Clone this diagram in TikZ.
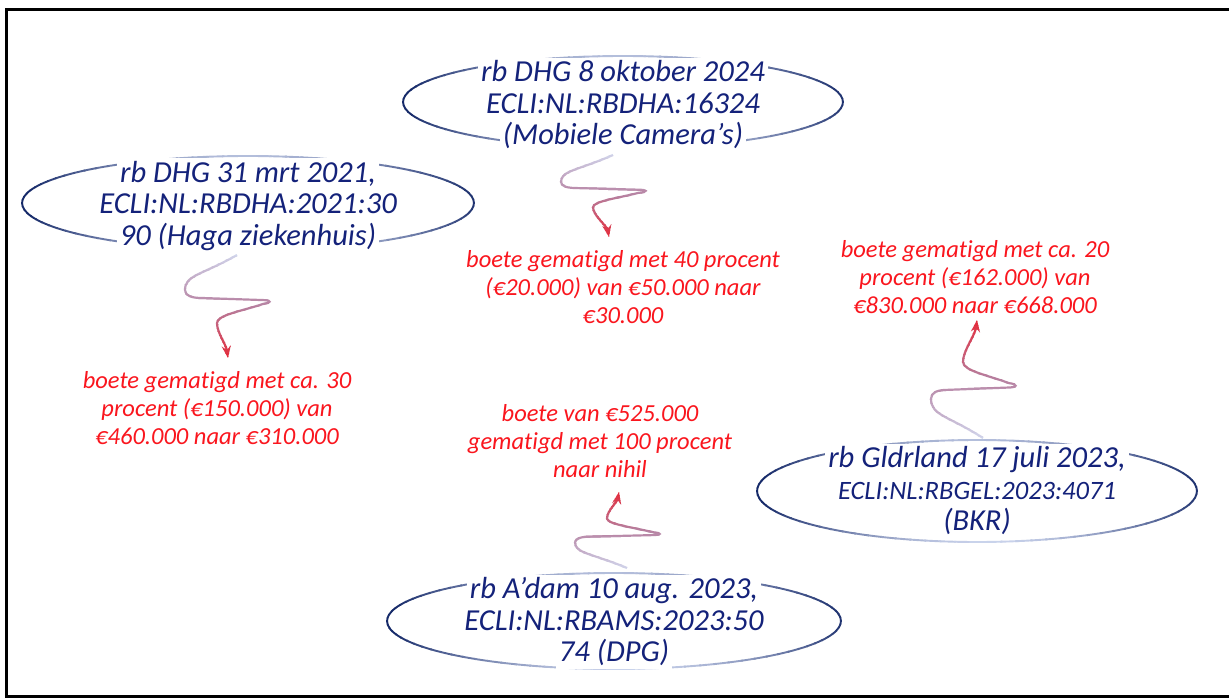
\documentclass[tikz,border=0pt]{standalone}
\usepackage{fontspec}
\setmainfont{Carlito}[Ligatures=NoCommon]
\usetikzlibrary{shapes.geometric,calc,arrows.meta}
\definecolor{navytext}{RGB}{20,34,122}
\definecolor{navyline}{RGB}{22,42,105}
\definecolor{paleline}{RGB}{205,214,238}
\definecolor{redtext}{RGB}{250,22,30}
\definecolor{sqpale}{RGB}{210,218,240}
\definecolor{sqmauve}{RGB}{182,128,160}
\definecolor{sqred}{RGB}{232,35,50}
\setlength\fboxsep{3pt}
\newcommand\hl[1]{\colorbox{white}{#1}}
\tikzset{
  ellbox/.style={ellipse, draw=none, inner sep=0},
  ellline/.style={line width=1.9pt},
  etext/.style={font=\fontsize{30.5}{31.5}\selectfont\itshape, text=navytext, align=center, inner sep=0},
  ltext/.style={font=\fontsize{24.5}{28.2}\selectfont\itshape, text=redtext, align=center, inner sep=0},
  sqline/.style={line width=2.2pt, -{Stealth[length=12pt,width=9pt,inset=4pt]}},
  outerframe/.style={line width=2.5pt, draw=black},
}
\newcommand\gradell[3]{% node name, x radius, y radius
  \foreach \t in {0,4,...,356}{
    \pgfmathtruncatemacro\dk{max(0,min(100,100*(0.08+0.92*abs(cos(\t))^1.6+0.06*sin(\t)-0.05*cos(\t))))}
    \draw[ellline, draw=navyline!\dk!paleline] ($(#1.center)+(\t:#2 and #3)$) arc[start angle=\t, end angle=\t+4.6, x radius=#2, y radius=#3];
  }}
\newcommand\squig[4]{% start, end, xscale, yscale
  \foreach \i in {0,...,31}{
    \pgfmathtruncatemacro\pa{min(100,200*\i/31)}
    \pgfmathtruncatemacro\pb{max(0,200*\i/31-100)}
    \colorlet{sqtmp}{sqmauve!\pa!sqpale}
    \colorlet{sqcol}{sqred!\pb!sqtmp}
    \begin{scope}
      \clip let \p1=(#1), \p2=(#2) in ({\x1-90pt},{\y1+(\y2-\y1)*(\i*1.12/32-0.06)}) rectangle ({\x1+90pt},{\y1+(\y2-\y1)*((\i+1)*1.12/32-0.06)});
      \begin{scope}[shift={(#1)}, xscale=#3, yscale=#4]
        \draw[sqline, draw=sqcol] (#1) .. controls (-35,-20) and (-52,-20) .. (-52,-35)
          .. controls (-52,-41) and (-45,-43) .. (-35,-43)
          -- (24,-45)
          .. controls (35,-45) and (35,-48) .. (26,-49)
          .. controls (5,-56) and (-20,-60) .. (-20,-68)
          .. controls (-20,-78) and +(-2,14) .. (#2);
      \end{scope}
    \end{scope}
  }}
\begin{document}
\begin{tikzpicture}[x=1pt,y=1pt]
\useasboundingbox (0,0) rectangle (1229,-698);
\fill[white] (0,0) rectangle (1229,-698);
\draw[outerframe] (1240,-9.5) -- (6.5,-9.5) -- (6.5,-696.5) -- (1240,-696.5);

% ellipses
\node[ellbox, minimum width=452, minimum height=94] (e1) at (248,-203) {};
\node[ellbox, minimum width=440, minimum height=92] (e2) at (623,-102) {};
\node[ellbox, minimum width=440, minimum height=102] (e3) at (977,-491) {};
\node[ellbox, minimum width=454, minimum height=96] (e4) at (614,-621) {};
\gradell{e1}{226}{47}
\gradell{e2}{220}{46}
\gradell{e3}{220}{51}
\gradell{e4}{227}{48}

% ellipse texts
\node[etext, yshift=-3] (n1) at (e1) {\hl{rb DHG 31 mrt 2021,}\\\hl{ECLI:NL:RBDHA:2021:30}\\\hl{90 (Haga ziekenhuis)}};
\node[etext, yshift=-3] (n2) at (e2) {\hl{rb DHG 8 oktober 2024}\\\hl{ECLI:NL:RBDHA:16324}\\\hl{(Mobiele Camera’s)}};
\node[etext] (n3) at (e3) {\hl{rb Gldrland 17 juli 2023,}\\\hl{\fontsize{26.5}{31.5}\selectfont ECLI:NL:RBGEL:2023:4071}\\\hl{(BKR)}};
\node[etext, yshift=-1] (n4) at (e4) {\hl{rb A’dam 10 aug. 2023,}\\\hl{ECLI:NL:RBAMS:2023:50}\\\hl{74 (DPG)}};

% red labels
\node[ltext] (l1) at (217,-408) {boete gematigd met ca. 30\\procent (€150.000) van\\€460.000 naar €310.000};
\node[ltext] (l2) at (623,-287) {boete gematigd met 40 procent\\(€20.000) van €50.000 naar\\€30.000};
\node[ltext] (l3) at (975,-277) {boete gematigd met ca. 20\\procent (€162.000) van\\€830.000 naar €668.000};
\node[ltext] (l4) at (600,-441) {boete van €525.000\\gematigd met 100 procent\\naar nihil};

% connector ends
\coordinate (s1) at (237,-255);
\coordinate (t1) at (228,-358);
\coordinate (s2) at (613,-155);
\coordinate (t2) at (609,-237);
\coordinate (s3) at (983,-438);
\coordinate (t3) at (977,-320);
\coordinate (s4) at (627,-568);
\coordinate (t4) at (619,-492);

\squig{s1}{t1}{1}{1}
\squig{s2}{t2}{1}{0.77}
\squig{s3}{t3}{1}{-1.12}
\squig{s4}{t4}{1}{-0.73}
\end{tikzpicture}
\end{document}
